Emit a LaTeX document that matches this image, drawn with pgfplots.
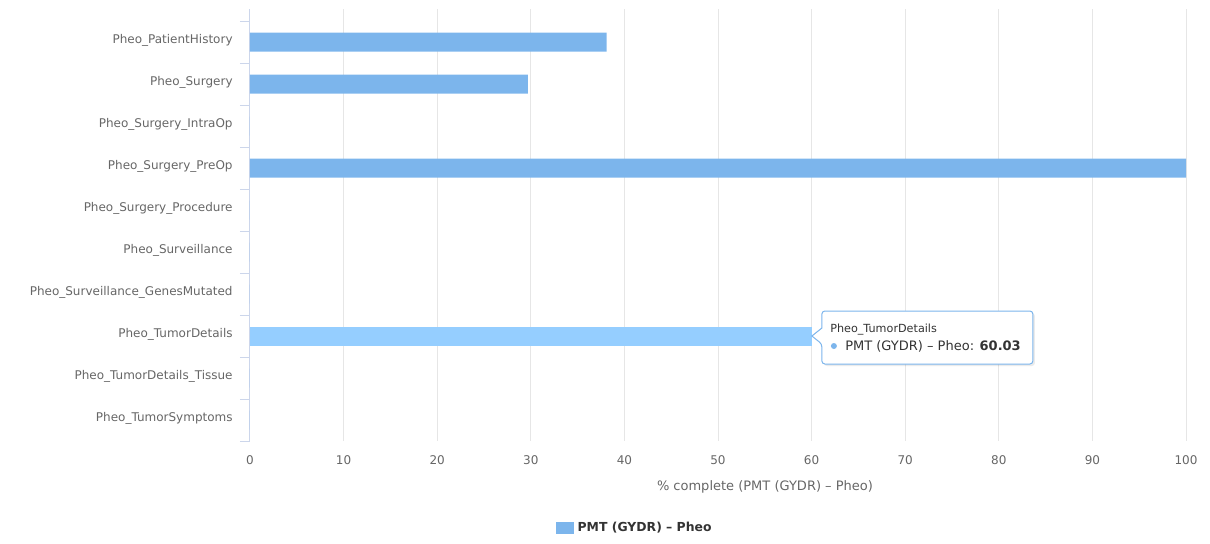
\documentclass[border=0pt]{standalone}
\usepackage{fontspec}
\setmainfont{DejaVu Sans}
\usepackage{pgfplots}
\pgfplotsset{compat=1.18}

\definecolor{barblue}{HTML}{7CB5EC}
\definecolor{barhover}{HTML}{95CEFF}
\definecolor{gridgray}{HTML}{E6E6E6}
\definecolor{axisline}{HTML}{CCD6EB}
\definecolor{labelgray}{HTML}{666666}
\definecolor{textdark}{HTML}{333333}

\begin{document}
\begin{tikzpicture}
% fixed page frame
\path[draw=none] (-125pt,-51pt) rectangle (480pt,220.5pt);
\begin{axis}[
  at={(0,0)}, anchor=south west,
  scale only axis, width=468pt, height=216pt,
  xbar, bar width=9.5pt, bar shift=0pt,
  xmin=0, xmax=100,
  ymin=-0.786, ymax=9.5, y dir=reverse,
  axis lines*=left,
  x axis line style={draw=none},
  y axis line style={axisline, line width=0.5pt},
  xtick={0,10,...,100},
  ytick={0,...,9},
  yticklabels={Pheo\_PatientHistory, Pheo\_Surgery, Pheo\_Surgery\_IntraOp,
    Pheo\_Surgery\_PreOp, Pheo\_Surgery\_Procedure, Pheo\_Surveillance,
    Pheo\_Surveillance\_GenesMutated, Pheo\_TumorDetails,
    Pheo\_TumorDetails\_Tissue, Pheo\_TumorSymptoms},
  minor ytick={-0.5,0.5,...,9.5},
  tick align=outside,
  major tick length=0pt, minor tick length=5pt,
  every major x tick/.style={draw=none},
  every major y tick/.style={draw=none},
  every minor y tick/.style={axisline, line width=0.5pt},
  xmajorgrids,
  major x grid style={gridgray, line width=0.5pt},
  /pgf/number format/assume math mode=true,
  xticklabel style={font=\fontsize{6}{7.2}\selectfont, text=labelgray,
    anchor=center, inner sep=0pt, yshift=-9.5pt},
  yticklabel style={font=\fontsize{6}{7.2}\selectfont, text=labelgray,
    anchor=east, inner sep=0pt, xshift=-8.5pt, yshift=0.8pt},
  xlabel={\% complete (PMT (GYDR) – Pheo)},
  xlabel style={at={(axis description cs:0.5502,0)}, anchor=center,
    yshift=-23pt, font=\fontsize{6.5}{7.8}\selectfont, text=labelgray, inner sep=0pt},
  legend style={at={(axis description cs:0.412,-0.2014)}, anchor=center,
    draw=none, fill=none, inner sep=0pt,
    font=\fontsize{6.2}{7.4}\selectfont\bfseries, text=textdark},
  legend image code/.code={\fill[barblue] (0pt,-3pt) rectangle (9pt,3pt);},
]
\addplot[draw=none, fill=barblue] coordinates {
  (38.1,0) (29.7,1) (0,2) (100,3) (0,4) (0,5) (0,6) (0,8) (0,9)
};
\addlegendentry{PMT (GYDR) – Pheo}
% highlighted bar under the pointer
\addplot[draw=none, fill=barhover, forget plot] coordinates {(60.03,7)};
\coordinate (tip) at (axis cs:60.03,7);
\end{axis}

% tooltip
\begin{scope}[shift={(tip)}]
  \fill[black, opacity=0.08, rounded corners=1.5pt]
    (6pt,11.5pt) -- (111.5pt,11.5pt) -- (111.5pt,-15pt) -- (6pt,-15pt) -- cycle;
  \filldraw[draw=barblue, line width=0.5pt, fill=white, rounded corners=1.5pt]
    (5pt,12.5pt) -- (110.5pt,12.5pt) -- (110.5pt,-14pt) -- (5pt,-14pt)
    -- (5pt,-4pt) [sharp corners] -- (0pt,0pt) -- (5pt,4pt) [rounded corners=1.5pt] -- cycle;
  \node[anchor=base west, inner sep=0pt, text=textdark,
    font=\fontsize{5.6}{6.7}\selectfont] at (9pt,2pt) {Pheo\_TumorDetails};
  \fill[barblue] (11pt,-5pt) circle (1.5pt);
  \node[anchor=west, inner sep=0pt, text=textdark,
    font=\fontsize{6.5}{7.8}\selectfont] at (16.5pt,-5pt) {PMT (GYDR) – Pheo: \textbf{60.03}};
\end{scope}
\end{tikzpicture}
\end{document}
